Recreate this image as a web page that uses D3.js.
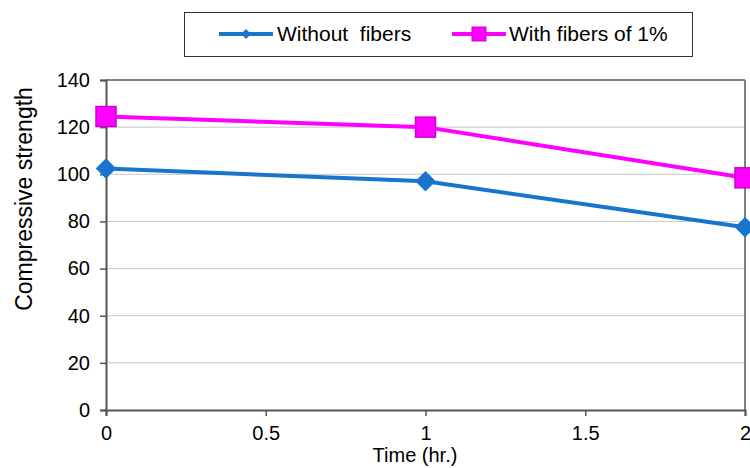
<!DOCTYPE html>
<html><head><meta charset="utf-8">
<script src="https://cdn.jsdelivr.net/npm/d3@7"></script>
<style>body{margin:0;background:#fff;} text{font-family:"Liberation Sans",Arial,sans-serif;}</style>
</head><body><svg id="c" width="750" height="468"></svg>
<script>
const times = [0, 1, 2];
const withoutFibers = [102.5, 97, 77.5];
const withFibers = [124.5, 120, 98.5];
const seriesNames = ["Without  fibers", "With fibers of 1%"];
const xTicks = [0, 0.5, 1, 1.5, 2];
const yTicks = [0, 20, 40, 60, 80, 100, 120, 140];

const svg = d3.select("#c");
const m = {l:106, r:745, t:80, b:410};
const x = d3.scaleLinear().domain([0,2]).range([m.l, m.r]);
const y = d3.scaleLinear().domain([0,140]).range([m.b, m.t]);

// gridlines
svg.append("g").selectAll("line").data(yTicks.filter(d=>d>0)).join("line")
  .attr("x1", m.l).attr("x2", m.r).attr("y1", d=>y(d)).attr("y2", d=>y(d))
  .attr("stroke", d=> d===140 ? "#808080" : "#c8c8c8").attr("stroke-width", d=> d===140?2:1);
// right border
svg.append("line").attr("x1", m.r).attr("x2", m.r).attr("y1", m.t).attr("y2", m.b)
  .attr("stroke", "#808080").attr("stroke-width", 2);

// axes
const yAxis = svg.append("g").attr("transform", `translate(${m.l},0)`)
  .call(d3.axisLeft(y).tickValues(yTicks).tickSize(6).tickPadding(10));
const xAxis = svg.append("g").attr("transform", `translate(0,${m.b})`)
  .call(d3.axisBottom(x).tickValues(xTicks).tickSize(6).tickPadding(8).tickFormat(d3.format("")));
[yAxis, xAxis].forEach(a=>{
  a.select(".domain").attr("stroke", "#555").attr("stroke-width", 2);
  a.selectAll(".tick line").attr("stroke", "#555").attr("stroke-width", 1.5);
  a.selectAll(".tick text").attr("font-size", 20).attr("fill", "#000").attr("font-family", "Liberation Sans, Arial, sans-serif");
});
xAxis.selectAll(".tick text").attr("dy", "0.8em");

// axis titles
svg.append("text").attr("x", 415).attr("y", 462).attr("text-anchor", "middle")
  .attr("font-size", 20).text("Time (hr.)");
svg.append("text").attr("transform", "translate(32,199) rotate(-90)").attr("text-anchor", "middle")
  .attr("font-size", 23).text("Compressive strength");

const line = d3.line().x((d,i)=>x(times[i])).y(d=>y(d));
const blue = "#1874CD", mag = "#FF00FF";

svg.append("path").datum(withoutFibers).attr("d", line).attr("fill","none").attr("stroke", blue).attr("stroke-width", 4);
svg.append("path").datum(withFibers).attr("d", line).attr("fill","none").attr("stroke", mag).attr("stroke-width", 4);

svg.append("g").selectAll("path").data(withoutFibers).join("path")
  .attr("d", d3.symbol().type(d3.symbolSquare).size(210)).attr("transform",(d,i)=>`translate(${x(times[i])},${y(d)}) rotate(45)`)
  .attr("fill", blue);

svg.append("g").selectAll("rect").data(withFibers).join("rect")
  .attr("x", (d,i)=>x(times[i])-10).attr("y", d=>y(d)-10).attr("width", 20).attr("height", 20)
  .attr("fill", mag).attr("stroke", "#d000d0").attr("stroke-width", 1.5);

// legend
const lg = svg.append("g");
lg.append("rect").attr("x", 184.5).attr("y", 12.5).attr("width", 508).attr("height", 44)
  .attr("fill", "#fff").attr("stroke", "#333").attr("stroke-width", 1);
const items = [{name: seriesNames[0], c: blue, x0: 219, tx: 277, m: "d"},
               {name: seriesNames[1], c: mag, x0: 452, tx: 509, m: "s"}];
items.forEach(it=>{
  lg.append("line").attr("x1", it.x0).attr("x2", it.x0+54).attr("y1", 34).attr("y2", 34)
    .attr("stroke", it.c).attr("stroke-width", 4);
  if (it.m === "d") {
    lg.append("path").attr("d", d3.symbol().type(d3.symbolSquare).size(50)())
      .attr("transform", `translate(${it.x0+27},34) rotate(45)`).attr("fill", it.c);
  } else {
    lg.append("rect").attr("x", it.x0+20).attr("y", 27).attr("width", 14).attr("height", 14)
      .attr("fill", it.c).attr("stroke", "#d000d0");
  }
  lg.append("text").attr("x", it.tx).attr("y", 41).attr("font-size", 21).text(it.name)
    .style("white-space","pre").attr("xml:space","preserve");
});
</script></body></html>
